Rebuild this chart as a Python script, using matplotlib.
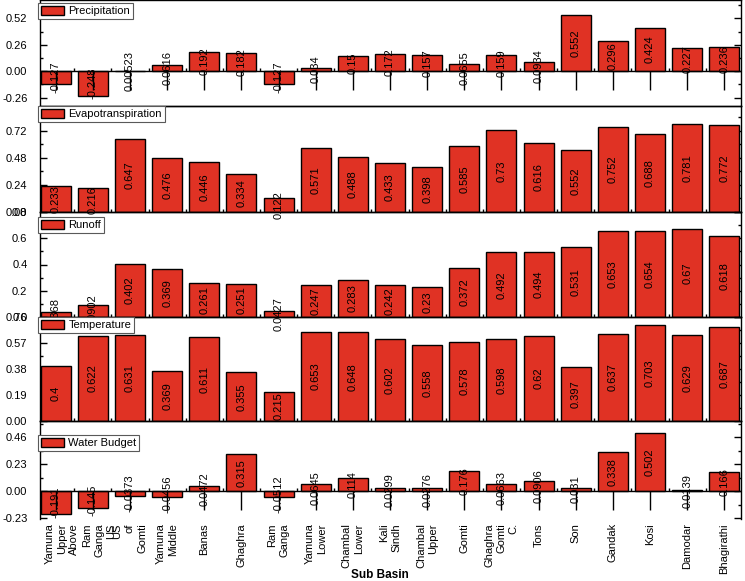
import matplotlib.pyplot as plt
import numpy as np
from matplotlib.ticker import AutoMinorLocator, MultipleLocator

plt.rcParams['font.family'] = ['Liberation Sans', 'DejaVu Sans']

basins = ["Yamuna\nUpper", "Above\nRam\nGanga\nUS", "US\nof\nGomti", "Yamuna\nMiddle",
          "Banas", "Ghaghra", "Ram\nGanga", "Yamuna\nLower", "Chambal\nLower",
          "Kali\nSindh", "Chambal\nUpper", "Gomti", "Ghaghra\nGomti\nC.", "Tons",
          "Son", "Gandak", "Kosi", "Damodar", "Bhagirathi"]

precipitation = [-0.127, -0.248, 0.00523, 0.0616, 0.192, 0.182, -0.127, 0.034, 0.15,
                 0.172, 0.157, 0.0655, 0.159, 0.0934, 0.552, 0.296, 0.424, 0.227, 0.236]
evapotranspiration = [0.233, 0.216, 0.647, 0.476, 0.446, 0.334, 0.122, 0.571, 0.488,
                      0.433, 0.398, 0.585, 0.73, 0.616, 0.552, 0.752, 0.688, 0.781, 0.772]
runoff = [0.0368, 0.0902, 0.402, 0.369, 0.261, 0.251, 0.0427, 0.247, 0.283,
          0.242, 0.23, 0.372, 0.492, 0.494, 0.531, 0.653, 0.654, 0.67, 0.618]
temperature = [0.4, 0.622, 0.631, 0.369, 0.611, 0.355, 0.215, 0.653, 0.648,
               0.602, 0.558, 0.578, 0.598, 0.62, 0.397, 0.637, 0.703, 0.629, 0.687]
water_budget = [-0.191, -0.145, -0.0373, -0.0456, 0.0472, 0.315, -0.0512, 0.0645, 0.114,
                0.0299, 0.0276, 0.176, 0.0663, 0.0906, 0.031, 0.338, 0.502, 0.0139, 0.166]

# name, values, ylim, major step, tick format, legend offset (px from top), zero axis
panels = [
    ("Precipitation", precipitation, (-0.343, 0.70), 0.26, '%.2f', 3, True),
    ("Evapotranspiration", evapotranspiration, (0, 0.94), 0.24, '%.2f', 0, False),
    ("Runoff", runoff, (0, 0.8), 0.2, '%.1f', 5, False),
    ("Temperature", temperature, (0, 0.76), 0.19, '%.2f', 0, False),
    ("Water Budget", water_budget, (-0.235, 0.60), 0.23, '%.2f', 14, True),
]
edges_px = [0, 106, 212, 317, 421, 519]

W, H = 745, 581
fig = plt.figure(figsize=(W / 100, H / 100), dpi=100)
red = '#e03224'
x = np.arange(1, len(basins) + 1)
xmin = np.arange(1.5, len(basins), 1)

axes = []
for i, (name, vals, ylim, step, fmt, legoff, zero_axis) in enumerate(panels):
    top, bot = edges_px[i], edges_px[i + 1]
    hpx = bot - top
    ax = fig.add_axes([40 / W, 1 - bot / H, 701 / W, hpx / H])
    ax.set_facecolor('none')
    ax.bar(x, vals, width=0.81, color=red, edgecolor='black', linewidth=1, label=name, zorder=2)
    ax.set_xlim(0.577, 19.45)
    ax.set_ylim(*ylim)
    ax.yaxis.set_major_locator(MultipleLocator(step))
    ax.yaxis.set_minor_locator(AutoMinorLocator(2))
    ax.yaxis.set_major_formatter(plt.FormatStrFormatter(fmt))
    ax.tick_params(axis='y', which='both', direction='in', left=True, right=True,
                   labelsize=8, width=1, pad=9)
    ax.tick_params(axis='y', which='major', length=5)
    ax.tick_params(axis='y', which='minor', length=2.5)
    for s in ax.spines.values():
        s.set_linewidth(1)

    per_px = (ylim[1] - ylim[0]) / hpx
    ax.set_xticks(x)
    ax.set_xticks(xmin, minor=True)
    if zero_axis:
        ax.axhline(0, color='black', lw=1, zorder=3)
        ax.vlines(xmin, 0, 3 * per_px, color='black', lw=1, zorder=3)
        ax.vlines(x, -19 * per_px, 0, color='black', lw=1, zorder=3)
        ax.tick_params(axis='x', which='both', length=0)
    else:
        ax.tick_params(axis='x', which='minor', direction='in', length=2.5, width=1)
        ax.tick_params(axis='x', which='major', length=0)

    for xi, v in zip(x, vals):
        ax.text(xi, v / 2, f"{v:g}", rotation=90, ha='center', va='center',
                fontsize=8, clip_on=False, zorder=4)

    leg = ax.legend(loc='upper left', bbox_to_anchor=(-0.003, 1 - legoff / hpx), borderaxespad=0,
                    fontsize=8, fancybox=False, edgecolor='0.35', framealpha=1,
                    handlelength=2.1, handleheight=0.85, handletextpad=0.4, borderpad=0.25)
    leg.get_frame().set_linewidth(0.8)
    leg.set_zorder(5)
    axes.append(ax)

for ax in axes[:-1]:
    ax.tick_params(axis='x', labelbottom=False)

ax5 = axes[-1]
ax5.spines['bottom'].set_visible(False)
ax5.set_xticklabels(basins, rotation=90, va='top', ha='center', multialignment='right',
                    linespacing=1.3, fontsize=8)
ax5.tick_params(axis='x', which='major', pad=3)
ax5.set_xlabel("Sub Basin", fontsize=8.5, fontweight='bold')
ax5.xaxis.set_label_coords((380 - 40) / 701, -(575 - 519) / 98)
ax5.xaxis.label.set_va('center')

plt.savefig("out.png", dpi=100)
plt.close()
